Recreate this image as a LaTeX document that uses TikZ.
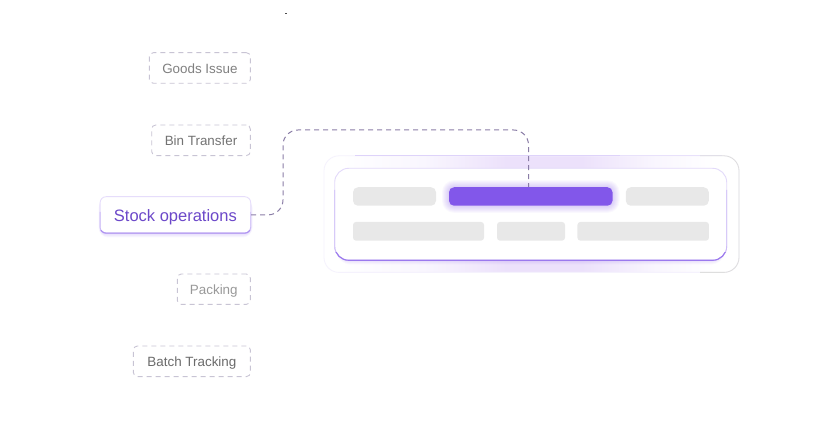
\documentclass[tikz,border=0pt]{standalone}
\usepackage{fontspec}
\setmainfont{Liberation Sans}
\definecolor{dashbox}{HTML}{C8C4D4}
\definecolor{linkc}{HTML}{8A7DA6}
\definecolor{violet}{HTML}{8257EA}
\definecolor{violetT}{HTML}{6C48C9}
\definecolor{graybar}{HTML}{E8E8E8}
\definecolor{band}{HTML}{ECE1FB}
\definecolor{cardhi}{HTML}{F9F6FE}
\pgfdeclarehorizontalshading{cardfill}{100bp}{color(0bp)=(white); color(27bp)=(white); color(37bp)=(cardhi); color(47bp)=(band); color(56bp)=(band); color(65bp)=(cardhi); color(72bp)=(white); color(100bp)=(white)}
\tikzset{
  opbox/.style={draw=dashbox,line width=0.9pt,dash pattern=on 5pt off 4pt,rounded corners=4pt,fill=white,inner sep=0pt,font=\fontsize{13.4}{15}\selectfont,text height=10.6pt,text depth=0pt},
  bar/.style={fill=graybar,draw=none,rounded corners=#1,inner sep=0pt},
  bar/.default=3pt,
  link/.style={draw=linkc,line width=1pt,dash pattern=on 5pt off 4pt,rounded corners=15pt},
  softedge/.style={draw=violet!40!white,line width=0.9pt},
  strongedge/.style={draw=violet!80!white,line width=1.1pt}
}
\begin{document}
\begin{tikzpicture}[x=1pt,y=-1pt]
\useasboundingbox (0,0) rectangle (840,435);
\fill[black!70] (285,13) rectangle (287,14.4);
% outer card
\node[shading=cardfill,rounded corners=15pt,minimum width=416pt,minimum height=117.5pt,inner sep=0pt] (outer) at (531.5,214.1) {};
\draw[draw=white,line width=1.6pt,rounded corners=16pt] (323.5,155.3) rectangle (739.5,272.9);
\draw[draw=violet!8!white,line width=0.8pt,rounded corners=15pt] (324,155.8) rectangle (739,272.4);
\draw[draw=violet!26!white,line width=0.8pt] (355,155.6) -- (620,155.6);
\draw[draw=violet!18!white,line width=0.8pt] (620,155.6) -- (722,155.6);
\draw[draw=black!13,line width=0.8pt,rounded corners=15pt] (700,155.8) -- (739,155.8) -- (739,272.4) -- (700,272.4);
% inner card
\foreach \i in {1,2,3,4}{
  \fill[violet,opacity=.04,rounded corners=15pt] (336,170) rectangle ({725.5},{260.5+\i});
}
\node[fill=white,draw=violet!22!white,line width=0.9pt,rounded corners=14pt,inner sep=0pt,minimum width=392pt,minimum height=92pt] (panel) at (530.7,214.3) {};
\draw[softedge,rounded corners=14pt] (334.7,190) -- (334.7,260.3) -- (726.7,260.3) -- (726.7,190);
\begin{scope}
  \clip (330,253) rectangle (732,265);
  \draw[strongedge,rounded corners=14pt] (334.8,220) -- (334.8,260.3) -- (726.6,260.3) -- (726.6,220);
\end{scope}
% bars
\node[bar=5pt,minimum width=83pt,minimum height=18.5pt] (b1) at (394.5,196.5) {};
\node[bar=5pt,minimum width=83pt,minimum height=18.5pt] (b3) at (667.3,196.5) {};
\node[bar,minimum width=131pt,minimum height=18.7pt] (c1) at (418.5,231.3) {};
\node[bar,minimum width=68pt,minimum height=18.7pt] (c2) at (531,231.3) {};
\node[bar,minimum width=131.5pt,minimum height=18.7pt] (c3) at (643.2,231.3) {};
% active bar
\foreach \i in {1,...,7}{
  \pgfmathsetmacro\rr{5+\i}
  \fill[violet,opacity=.04,rounded corners=\rr pt] ({449-\i},{187.3-\i}) rectangle ({612.5+\i},{205.8+\i});
}
\node[fill=violet,rounded corners=5pt,inner sep=0pt,minimum width=163.5pt,minimum height=18.5pt] (active) at (530.75,196.5) {};
% stock operations
\foreach \i in {1,2,3,4}{
  \pgfmathsetmacro\rr{6+\i}
  \fill[violet,opacity=.05,rounded corners=\rr pt] ({100.5-\i/2},198) rectangle ({250.5+\i/2},{233.5+\i});
}
\node[fill=white,draw=violet!20!white,line width=0.9pt,rounded corners=6pt,inner sep=0pt,minimum width=150.6pt,minimum height=36.4pt,
  text=violetT,font=\fontsize{16.5}{19}\selectfont,text height=12.4pt,text depth=0pt] (stock) at (175.4,214.9) {Stock operations};
\draw[softedge,rounded corners=6pt] (100.1,212) -- (100.1,233.1) -- (250.7,233.1) -- (250.7,212);
\begin{scope}
  \clip (95,230.5) rectangle (256,238);
  \draw[strongedge,draw=violet!65!white,rounded corners=6pt] (100.2,215) -- (100.2,233.2) -- (250.6,233.2) -- (250.6,215);
\end{scope}
% dashed options
\node[opbox,text=black!50,minimum width=101pt,minimum height=30.6pt] (goods) at (199.9,68) {Goods Issue};
\node[opbox,text=black!55,minimum width=98.6pt,minimum height=30.6pt] (bin) at (201,140.3) {Bin Transfer};
\node[opbox,text=black!40,minimum width=73pt,minimum height=30.4pt] (pack) at (213.8,289.2) {Packing};
\node[opbox,text=black!58,minimum width=117pt,minimum height=30.6pt] (batch) at (191.9,361.3) {Batch Tracking};
% connector
\coordinate (top) at (283,130);
\coordinate (drop) at (528.5,187);
\draw[link] (stock.east) -| (top) -| (drop);
\end{tikzpicture}
\end{document}
